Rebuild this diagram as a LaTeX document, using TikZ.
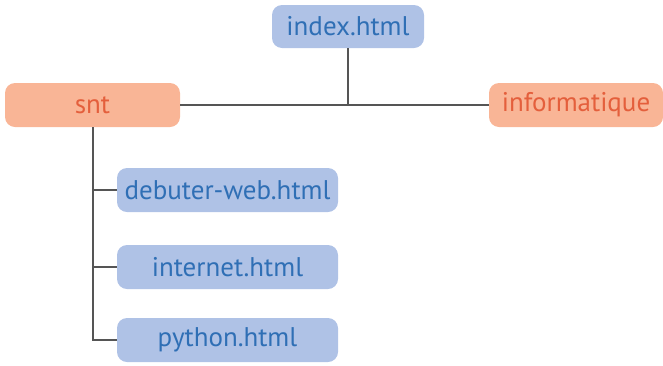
\documentclass[tikz,border=0pt]{standalone}
\usepackage{fontspec}
\setmainfont{PT Sans}
\definecolor{bluefill}{HTML}{AFC2E6}
\definecolor{bluetext}{HTML}{2F6FB5}
\definecolor{orfill}{HTML}{F9B596}
\definecolor{ortext}{HTML}{E45F3C}
\definecolor{linec}{HTML}{555555}
\tikzset{
  bluebox/.style={rectangle, rounded corners=10pt, fill=bluefill, text=bluetext, inner sep=0pt, font=\fontsize{27}{29}\selectfont},
  orbox/.style={rectangle, rounded corners=10pt, fill=orfill, text=ortext, inner sep=0pt, font=\fontsize{27}{29}\selectfont},
  conn/.style={draw=linec, line width=1.2pt}
}
\begin{document}
\begin{tikzpicture}[x=1pt,y=-1pt]
\useasboundingbox (0,0) rectangle (663,365);
\node[bluebox, minimum width=152pt, minimum height=43pt] (index) at (348,26.5) {index.html};
\node[orbox, minimum width=175pt, minimum height=44pt] (snt) at (92.5,105) {snt};
\node[orbox, minimum width=174pt, minimum height=44pt] (info) at (576,105) {informatique};
\node[bluebox, minimum width=221pt, minimum height=44pt] (deb) at (227.5,190) {debuter-web.html};
\node[bluebox, minimum width=221pt, minimum height=44pt] (inet) at (227.5,267) {internet.html};
\node[bluebox, minimum width=221pt, minimum height=44pt] (py) at (227.5,340) {python.html};
\coordinate (mid) at (index.south |- snt.east);
\coordinate (trunk) at (93,0);
\draw[conn] (snt.east) -- (info.west);
\draw[conn] (index.south) -- (mid);
\draw[conn] (trunk |- snt.south) -- (trunk |- py.west) -- (py.west);
\draw[conn] (trunk |- deb.west) -- (deb.west);
\draw[conn] (trunk |- inet.west) -- (inet.west);
\end{tikzpicture}
\end{document}
